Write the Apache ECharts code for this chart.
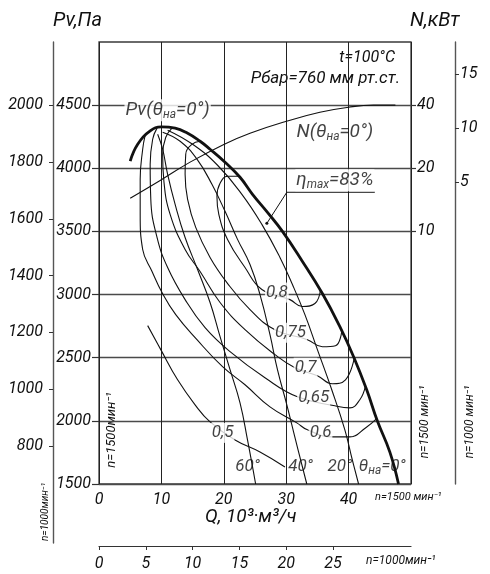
<!DOCTYPE html>
<html>
<head>
<meta charset="utf-8">
<script src="https://cdn.jsdelivr.net/npm/echarts@6/dist/echarts.min.js"></script>
<style>
	html, body { margin: 0; background: #fff; }
	#chart { width: 490px; height: 574px; }
</style>
</head>
<body>
<div id="chart"></div>
<script>
// axis ticks
const qTicks1500 = [0, 10, 20, 30, 40],
	qTicks1000 = [0, 5, 10, 15, 20, 25],
	pTicks1500 = [1500, 2000, 2500, 3000, 3500, 4000, 4500],
	pTicks1000 = [800, 1000, 1200, 1400, 1600, 1800, 2000],
	nTicks1500 = [10, 20, 40],
	nTicks1000 = [5, 10, 15];

// Pv(θна=0°), [Q 10³ м³/ч, Pv Па]
const pv0 = [[5.0, 4056], [6.2, 4190], [8.2, 4296], [10.0, 4328], [12.2, 4318], [14.0, 4283],
	[16.2, 4214], [17.8, 4151], [20.2, 4048], [22.6, 3929], [24.6, 3794], [27.0, 3651],
	[29.4, 3500], [32.5, 3270], [35.8, 3008], [38.6, 2746], [40.8, 2508], [42.9, 2246],
	[44.6, 2000], [46.6, 1754], [48.0, 1500]];

// vane angles
const pv20 = [[11.0, 4302], [15.0, 4190], [19.0, 4024], [22.9, 3794], [26.1, 3556], [29.0, 3294],
	[31.0, 3079], [33.0, 2841], [35.0, 2564], [37.3, 2246], [39.4, 1929], [40.6, 1690], [41.6, 1500]];
const pv40 = [[10.2, 4286], [13.0, 4214], [15.7, 4072], [18.1, 3873], [20.2, 3659], [22.2, 3437],
	[24.2, 3238], [25.8, 3000], [27.4, 2683], [28.6, 2405], [30.1, 2127], [31.5, 1849], [33.3, 1500]];
const pv60 = [[9.4, 4270], [10.2, 4151], [11.0, 3952], [12.2, 3714], [13.8, 3452], [15.8, 3198],
	[17.8, 2937], [19.4, 2667], [21.0, 2405], [22.6, 2143], [23.8, 1849], [25.1, 1500]];

// efficiency lines
const eta80 = [[22.4, 3937], [20.6, 3937], [19.4, 3881], [18.9, 3778], [19.2, 3635], [20.6, 3437],
	[23.4, 3214], [26.1, 3040], [30.6, 2960], [32.6, 2905], [34.6, 2929], [35.5, 3040]];
const eta75 = [[16.2, 4214], [14.9, 4190], [13.9, 4111], [13.8, 3952], [14.2, 3754], [15.5, 3532],
	[17.8, 3294], [20.5, 3095], [24.2, 2881], [28.2, 2722], [33.4, 2643], [35.8, 2587], [37.9, 2595], [38.9, 2710]];
const eta70 = [[11.7, 4318], [10.7, 4246], [10.2, 4111], [10.4, 3897], [11.4, 3635], [13.8, 3357],
	[16.2, 3183], [19.4, 2937], [23.4, 2722], [28.2, 2524], [31.4, 2421], [35.0, 2357], [37.4, 2294],
	[39.5, 2325], [40.9, 2497]];
const eta65 = [[9.3, 4318], [8.6, 4230], [8.2, 4032], [8.3, 3754], [9.3, 3452], [11.0, 3214], [13.8, 2960],
	[17.0, 2738], [21.0, 2548], [26.6, 2341], [31.8, 2190], [37.8, 2119], [40.2, 2103], [41.8, 2167], [42.7, 2275]];
const eta60 = [[7.4, 4262], [7.0, 4151], [6.6, 3913], [6.6, 3635], [7.0, 3357], [8.5, 3183], [10.1, 3016],
	[12.3, 2841], [15.7, 2643], [19.8, 2429], [23.4, 2286], [27.4, 2111], [31.7, 1984], [33.4, 1929],
	[37.4, 1873], [40.2, 1873], [42.7, 1944], [44.5, 2018]];
const eta50 = [[7.8, 2754], [9.9, 2564], [12.6, 2325], [15.4, 2127], [17.8, 1992], [21.8, 1849],
	[25.8, 1754], [29.8, 1635]];
const etaMaxLeader = [[26.9, 3564], [30.1, 3810], [44.2, 3810]];

// N(θна=0°), [Q, кВт]
const n0 = [[5.0, 14.4], [9.8, 17.5], [14.6, 21.4], [20.0, 26.0], [24.2, 29.4], [30.0, 33.5],
	[35.4, 37.0], [40.0, 39.1], [44.0, 40.0], [47.5, 40.0]];

const FONT = 'Roboto, "Liberation Sans", sans-serif',
	INK = '#111',
	TXT = { color: INK, fontFamily: FONT, fontStyle: 'italic', fontSize: 16 },
	k2 = (1000 / 1500) ** 2,
	kq = 1000 / 1500,
	log2 = v => Math.log2(v),
	plain = v => String(v),
	rich = {
		a: { ...TXT, fontSize: 17, lineHeight: 20 },
		b: { ...TXT, fontSize: 19, lineHeight: 22 },
		s: { ...TXT, fontSize: 12, lineHeight: 16, verticalAlign: 'bottom' }
	};

const chart = echarts.init(document.getElementById('chart'));

const curve = (data, width = 1.1, yAxisIndex = 0) => ({
	type: 'line',
	data,
	yAxisIndex,
	symbol: 'none',
	smooth: 0.45,
	silent: true,
	z: 3,
	lineStyle: { color: INK, width }
});

const tag = (q, p, text, bg) => ({
	value: [q, p],
	label: {
		show: true,
		position: 'inside',
		formatter: text,
		rich,
		backgroundColor: bg ? '#fff' : 'transparent',
		padding: bg ? [0, 1] : 0
	}
});

const text = (x, y, t, size, align = 'left', rotation = 0) => ({
	type: 'text',
	x, y, rotation,
	silent: true,
	style: {
		text: t,
		fill: INK,
		fontFamily: FONT,
		fontStyle: 'italic',
		fontSize: size,
		align,
		verticalAlign: 'middle'
	}
});

chart.setOption({
	animation: false,
	backgroundColor: '#fff',
	grid: [
		{ left: 99, top: 42, width: 312, height: 442, show: true, borderColor: '#3a3a3a', borderWidth: 1.3 },
		{ left: 53, top: 42, width: 312, height: 501, show: false }
	],
	xAxis: [
		{
			gridIndex: 0, type: 'value', min: 0, max: 50, interval: 10,
			axisLine: { show: false, onZero: false }, axisTick: { show: false },
			axisLabel: { ...TXT, margin: 8, customValues: qTicks1500, formatter: plain },
			splitLine: { show: true, lineStyle: { color: '#222', width: 1 } }
		},
		{
			gridIndex: 0, type: 'value', position: 'bottom', offset: 62, min: 0, max: 50 * kq,
			axisLine: { show: true, onZero: false, lineStyle: { color: '#333', width: 1.2 } },
			axisTick: { show: true, length: 4, customValues: qTicks1000, lineStyle: { color: '#333' } },
			axisLabel: { ...TXT, margin: 10, customValues: qTicks1000, formatter: plain },
			splitLine: { show: false }
		},
		{ gridIndex: 1, type: 'value', show: false, min: 0, max: 1, axisLine: { onZero: false } }
	],
	yAxis: [
		{
			gridIndex: 0, type: 'value', min: 1500, max: 5000, interval: 500,
			axisLine: { show: false, onZero: false },
			axisTick: { show: true, length: 7, customValues: pTicks1500, lineStyle: { color: '#333', width: 1.2 } },
			axisLabel: { ...TXT, margin: 8, customValues: pTicks1500, formatter: plain },
			splitLine: { show: true, lineStyle: { color: '#4a4a4a', width: 1.4 } }
		},
		{
			gridIndex: 0, type: 'value', position: 'right', min: log2(0.625), max: log2(80),
			axisLine: { show: false, onZero: false },
			axisTick: { show: true, length: 5, customValues: nTicks1500.map(log2), lineStyle: { color: '#333', width: 1.2 } },
			axisLabel: { ...TXT, margin: 6, customValues: nTicks1500.map(log2), formatter: v => String(Math.round(2 ** v)) },
			splitLine: { show: false }
		},
		{
			gridIndex: 0, type: 'value', position: 'right', offset: 44, min: -23, max: 18,
			axisLine: { show: true, onZero: false, lineStyle: { color: '#555', width: 1.4 } },
			axisTick: { show: true, length: 4, customValues: nTicks1000, lineStyle: { color: '#333' } },
			axisLabel: { ...TXT, margin: 5, customValues: nTicks1000, formatter: plain },
			splitLine: { show: false }
		},
		{
			gridIndex: 1, type: 'value', position: 'left',
			max: 5000 * k2, min: 1500 * k2 - (59 / 442) * 3500 * k2,
			axisLine: { show: true, onZero: false, lineStyle: { color: '#555', width: 1.4 } },
			axisTick: { show: true, length: 4, customValues: pTicks1000, lineStyle: { color: '#333' } },
			axisLabel: { ...TXT, margin: 10, customValues: pTicks1000, formatter: plain },
			splitLine: { show: false }
		}
	],
	series: [
		curve(pv60), curve(pv40), curve(pv20),
		curve(eta80), curve(eta75), curve(eta70), curve(eta65), curve(eta60), curve(eta50),
		curve(pv0, 2.8),
		curve(n0.map(([q, n]) => [q, log2(n)]), 1.1, 1),
		{
			type: 'line', silent: true, z: 3, symbol: 'none', showSymbol: true,
			lineStyle: { color: INK, width: 1 },
			data: etaMaxLeader.map((v, i) => i ? v : { value: v, symbol: 'circle', symbolSize: 3, itemStyle: { color: INK } })
		},
		{
			type: 'scatter', symbolSize: 0, silent: true, z: 6,
			data: [
				tag(28.5, 3016, '{a|0,8}', true),
				tag(30.7, 2698, '{a|0,75}', true),
				tag(33.1, 2421, '{a|0,7}', true),
				tag(34.4, 2183, '{a|0,65}', true),
				tag(35.5, 1905, '{a|0,6}', true),
				tag(19.8, 1905, '{a|0,5}', true),
				tag(23.8, 1635, '{a|60°}'),
				tag(32.3, 1635, '{a|40°}'),
				tag(38.6, 1635, '{a|20°}'),
				tag(45.4, 1635, '{a|θ}{s|на}{a|=0°}'),
				tag(11.0, 4460, '{b|Pv(θ}{s|на}{b|=0°)}', true),
				tag(37.8, 4286, '{b|N(θ}{s|на}{b|=0°)}'),
				tag(37.8, 3905, '{b|η}{s|max}{b|=83%}', true)
			]
		}
	],
	graphic: [
		text(53, 21, 'Pv,Па', 20),
		text(410, 21, 'N,кВт', 20),
		text(395, 58, 't=100°C', 16, 'right'),
		text(400, 79, 'Рбар=760 мм рт.ст.', 17, 'right'),
		text(205, 517, 'Q, 10³·м³/ч', 19),
		text(375, 497, 'n=1500 мин⁻¹', 11),
		text(366, 561, 'n=1000мин⁻¹', 12),
		text(112, 430, 'n=1500мин⁻¹', 13, 'center', Math.PI / 2),
		text(45, 512, 'n=1000мин⁻¹', 10, 'center', Math.PI / 2),
		text(425, 422, 'n=1500 мин⁻¹', 12, 'center', Math.PI / 2),
		text(470, 422, 'n=1000 мин⁻¹', 12, 'center', Math.PI / 2)
	]
});
</script>
</body>
</html>
